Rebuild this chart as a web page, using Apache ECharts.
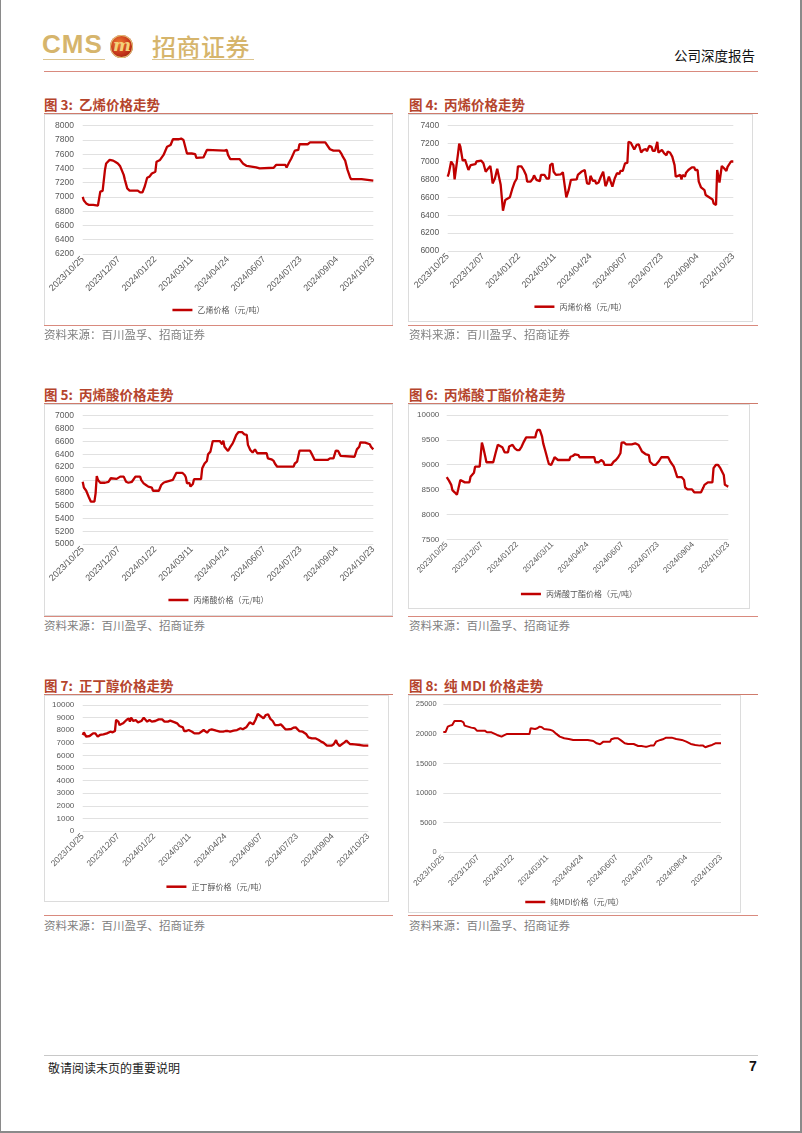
<!DOCTYPE html>
<html><head><meta charset="utf-8">
<script src="https://cdn.jsdelivr.net/npm/echarts/dist/echarts.min.js"></script>
<style>
html,body{margin:0;padding:0;background:#fff;}
#page{position:relative;width:802px;height:1133px;overflow:hidden;font-family:"Noto Sans CJK SC","Liberation Sans",sans-serif;}
.abs{position:absolute;}
.hl{position:absolute;height:0;}
.title{position:absolute;font-size:13.5px;font-weight:bold;color:#B5442C;line-height:16px;white-space:nowrap;}
.src{position:absolute;font-size:11.5px;color:#808080;line-height:14px;white-space:nowrap;}
.box{position:absolute;border:1px solid #DCDCDC;box-sizing:border-box;}
.chart{position:absolute;}
</style></head>
<body><div id="page">
<!-- page frame -->
<div class="abs" style="left:0;top:0;width:1px;height:1133px;background:#8a8a8a"></div>
<div class="abs" style="left:800px;top:0;width:1.5px;height:1133px;background:#8a8a8a"></div>
<div class="abs" style="left:0;top:1131px;width:802px;height:1.5px;background:#8a8a8a"></div>

<!-- header -->
<div class="abs" style="left:42px;top:29px;font-family:'Liberation Sans',Arial,sans-serif;font-weight:bold;font-size:26px;letter-spacing:1px;color:#D6B56C;line-height:30px">CMS</div>
<div class="abs" style="left:110px;top:35px;width:23px;height:23px;border-radius:50%;background:radial-gradient(circle at 40% 35%,#F07A32 0%,#C4341A 55%,#7E1508 100%);box-shadow:0 0 0 1px #E2C27A inset;"></div>
<div class="abs" style="left:112px;top:33px;width:20px;text-align:center;font-family:'DejaVu Serif',serif;font-style:italic;font-weight:bold;font-size:17px;color:#F3D27A;line-height:24px">m</div>
<div class="abs" style="left:152px;top:31px;font-size:24px;font-weight:500;color:#D6B56C;line-height:30px;letter-spacing:0.5px">招商证券</div>
<div class="hl" style="left:43px;top:59px;width:62px;border-top:1.5px solid #DCC48E"></div>
<div class="hl" style="left:152px;top:59px;width:102px;border-top:1.5px solid #DCC48E"></div>
<div class="abs" style="left:674px;top:46px;font-size:13.5px;color:#111;line-height:18px">公司深度报告</div>
<div class="hl" style="left:44px;top:71px;width:714px;border-top:1.2px solid #D98A7E"></div>

<!-- row 1 -->
<div class="title" style="left:44px;top:96px">图 3:&nbsp; 乙烯价格走势</div>
<div class="title" style="left:409px;top:96px">图 4:&nbsp; 丙烯价格走势</div>
<div class="hl" style="left:44px;top:113px;width:349px;border-top:1.5px solid #CF7B6C"></div>
<div class="hl" style="left:408px;top:113px;width:350px;border-top:1.5px solid #CF7B6C"></div>
<div class="box" style="left:44px;top:114px;width:349px;height:212px"></div>
<div class="box" style="left:408px;top:114px;width:345px;height:208px"></div>
<div id="c3" class="chart" style="left:44px;top:114px;width:349px;height:212px"></div>
<div id="c4" class="chart" style="left:408px;top:114px;width:345px;height:208px"></div>
<div class="hl" style="left:44px;top:325px;width:349px;border-top:1.2px solid #D98A7E"></div>
<div class="hl" style="left:408px;top:325px;width:350px;border-top:1.2px solid #D98A7E"></div>
<div class="src" style="left:44px;top:327px">资料来源：百川盈孚、招商证券</div>
<div class="src" style="left:409px;top:327px">资料来源：百川盈孚、招商证券</div>

<!-- row 2 -->
<div class="title" style="left:44px;top:386px">图 5:&nbsp; 丙烯酸价格走势</div>
<div class="title" style="left:409px;top:386px">图 6:&nbsp; 丙烯酸丁酯价格走势</div>
<div class="hl" style="left:44px;top:403px;width:349px;border-top:1.5px solid #CF7B6C"></div>
<div class="hl" style="left:408px;top:403px;width:350px;border-top:1.5px solid #CF7B6C"></div>
<div class="box" style="left:44px;top:404px;width:349px;height:212px"></div>
<div class="box" style="left:408px;top:404px;width:342px;height:205px"></div>
<div id="c5" class="chart" style="left:44px;top:404px;width:349px;height:212px"></div>
<div id="c6" class="chart" style="left:408px;top:404px;width:342px;height:205px"></div>
<div class="hl" style="left:44px;top:616px;width:349px;border-top:1.2px solid #D98A7E"></div>
<div class="hl" style="left:408px;top:616px;width:350px;border-top:1.2px solid #D98A7E"></div>
<div class="src" style="left:44px;top:618px">资料来源：百川盈孚、招商证券</div>
<div class="src" style="left:409px;top:618px">资料来源：百川盈孚、招商证券</div>

<!-- row 3 -->
<div class="title" style="left:44px;top:677px">图 7:&nbsp; 正丁醇价格走势</div>
<div class="title" style="left:409px;top:677px">图 8:&nbsp; 纯 MDI 价格走势</div>
<div class="hl" style="left:44px;top:694px;width:349px;border-top:1.5px solid #CF7B6C"></div>
<div class="hl" style="left:408px;top:694px;width:350px;border-top:1.5px solid #CF7B6C"></div>
<div class="box" style="left:44px;top:695px;width:345px;height:207px"></div>
<div class="box" style="left:408px;top:695px;width:333px;height:218px"></div>
<div id="c7" class="chart" style="left:44px;top:695px;width:345px;height:207px"></div>
<div id="c8" class="chart" style="left:408px;top:695px;width:333px;height:218px"></div>
<div class="hl" style="left:44px;top:915px;width:349px;border-top:1.2px solid #D98A7E"></div>
<div class="hl" style="left:408px;top:915px;width:350px;border-top:1.2px solid #D98A7E"></div>
<div class="src" style="left:44px;top:918px">资料来源：百川盈孚、招商证券</div>
<div class="src" style="left:409px;top:918px">资料来源：百川盈孚、招商证券</div>

<!-- footer -->
<div class="hl" style="left:44px;top:1055px;width:714px;border-top:1px solid #C8C8C8"></div>
<div class="abs" style="left:48px;top:1060px;font-size:12px;color:#222;line-height:15px">敬请阅读末页的重要说明</div>
<div class="abs" style="left:749px;top:1058px;font-family:'Liberation Sans',Arial,sans-serif;font-size:14px;font-weight:bold;color:#111;line-height:17px">7</div>
</div>

<script>
// x-axis tick labels (one every 31 trading days)
var dateLabels = ['2023/10/25','2023/12/07','2024/01/22','2024/03/11','2024/04/24','2024/06/07','2024/07/23','2024/09/04','2024/10/23'];
var labelStep = 31;
var lastIndex = 248;

// [trading-day index, price 元/吨]
var ethylene = [[0,7000],[1,6950],[3,6910],[5,6890],[9,6890],[10,6880],[13,6880],[14,6870],[15,7075],[17,7085],[19,7380],[20,7470],[23,7520],[26,7510],[28,7490],[30,7470],[32,7430],[33,7420],[35,7310],[36,7240],[38,7120],[40,7090],[47,7090],[49,7065],[51,7065],[53,7150],[55,7270],[57,7285],[59,7330],[62,7355],[63,7495],[66,7520],[69,7590],[72,7705],[75,7730],[77,7810],[82,7810],[84,7820],[86,7800],[87,7775],[89,7610],[93,7610],[96,7600],[97,7550],[103,7555],[104,7575],[106,7660],[121,7650],[123,7660],[124,7590],[126,7530],[134,7530],[137,7465],[140,7435],[148,7415],[151,7400],[163,7410],[165,7450],[173,7450],[174,7415],[176,7480],[178,7540],[181,7650],[184,7660],[185,7740],[192,7740],[194,7765],[207,7765],[208,7750],[211,7670],[214,7650],[219,7650],[221,7600],[222,7565],[224,7510],[226,7380],[228,7285],[229,7250],[238,7250],[239,7230],[248,7230]];

var propylene = [[0,6830],[1,6870],[3,7000],[5,6960],[6,6800],[7,6800],[9,7090],[10,7200],[11,7165],[13,7010],[15,7020],[16,7000],[18,6905],[20,6960],[24,6970],[25,7000],[29,7010],[31,6980],[33,6885],[35,6920],[37,6950],[38,6870],[39,6755],[41,6810],[43,6920],[44,6905],[46,6740],[48,6450],[50,6570],[51,6590],[54,6600],[56,6690],[58,6765],[60,6810],[61,6945],[64,6945],[66,6905],[68,6850],[69,6775],[72,6775],[74,6810],[75,6845],[77,6795],[80,6780],[81,6850],[84,6850],[86,6810],[88,6810],[89,6960],[91,6980],[92,6885],[94,6850],[98,6855],[100,6880],[101,6875],[103,6600],[105,6680],[107,6795],[108,6800],[112,6800],[113,6850],[116,6885],[119,6905],[120,6910],[121,6755],[123,6750],[124,6840],[126,6785],[128,6785],[129,6750],[131,6765],[133,6830],[135,6885],[136,6870],[137,6725],[138,6750],[140,6830],[142,6755],[143,6720],[145,6810],[147,6870],[149,6860],[150,6895],[152,6895],[154,6980],[156,6985],[157,7220],[159,7210],[161,7160],[162,7135],[164,7185],[166,7190],[168,7100],[170,7130],[172,7140],[173,7115],[175,7175],[177,7165],[178,7120],[180,7120],[182,7220],[183,7100],[186,7130],[188,7090],[190,7070],[191,7110],[193,7100],[195,7055],[197,6960],[198,6830],[200,6840],[202,6850],[203,6800],[204,6850],[206,6830],[207,6875],[209,6905],[212,6935],[214,6935],[215,6905],[217,6905],[218,6775],[220,6710],[223,6680],[224,6625],[227,6600],[230,6575],[231,6530],[233,6515],[234,6905],[235,6885],[236,6765],[238,6950],[240,6925],[242,6895],[243,6940],[246,7000],[248,7000]];

var acrylicAcid = [[0,5970],[1,5880],[3,5830],[5,5740],[7,5660],[10,5660],[11,5790],[12,6060],[13,6000],[15,5955],[19,5955],[20,5935],[22,5970],[24,6025],[29,6015],[30,5995],[32,6050],[35,6050],[37,5970],[39,5955],[42,5970],[45,6050],[49,6050],[50,5995],[52,5945],[54,5920],[56,5895],[59,5880],[60,5830],[65,5830],[67,5920],[69,5955],[71,5970],[72,6000],[77,6000],[79,6075],[80,6110],[85,6110],[87,6075],[88,6040],[89,5945],[91,5955],[92,5895],[94,5935],[95,6010],[101,6010],[102,6180],[104,6255],[106,6295],[107,6400],[109,6440],[111,6605],[117,6605],[119,6555],[120,6610],[121,6515],[124,6450],[126,6515],[128,6570],[129,6610],[131,6700],[133,6745],[136,6745],[138,6710],[140,6700],[141,6545],[143,6465],[145,6425],[147,6475],[149,6415],[157,6415],[158,6335],[161,6320],[163,6295],[164,6255],[166,6205],[180,6205],[181,6255],[183,6285],[185,6455],[194,6455],[196,6385],[198,6310],[209,6310],[211,6335],[214,6335],[216,6455],[218,6450],[220,6375],[221,6360],[232,6360],[234,6475],[236,6515],[237,6585],[241,6580],[242,6555],[245,6555],[246,6515],[248,6475]];

var butylAcrylate = [[0,8750],[2,8680],[4,8595],[5,8490],[7,8445],[9,8395],[10,8490],[12,8695],[13,8695],[16,8645],[20,8645],[21,8760],[24,8840],[25,8960],[29,8960],[31,9445],[32,9365],[34,9160],[35,9050],[41,9050],[43,9230],[45,9400],[46,9365],[49,9350],[51,9250],[54,9250],[55,9365],[58,9400],[60,9330],[62,9295],[64,9295],[66,9365],[68,9465],[70,9550],[78,9550],[79,9650],[80,9700],[82,9700],[84,9565],[85,9430],[87,9265],[88,9230],[89,9095],[90,9015],[92,8995],[94,9095],[95,9150],[98,9095],[103,9095],[104,9130],[105,9095],[108,9095],[109,9160],[111,9175],[113,9210],[114,9245],[116,9195],[117,9150],[130,9150],[131,9050],[134,9050],[136,9095],[138,9060],[139,8995],[145,8995],[147,9060],[149,9095],[151,9150],[153,9230],[154,9445],[156,9450],[158,9410],[163,9410],[164,9450],[166,9430],[169,9395],[171,9310],[172,9265],[175,9215],[178,9195],[179,9060],[180,9030],[182,8995],[184,8995],[185,8960],[187,9075],[189,9150],[195,9150],[197,9060],[200,8960],[202,8825],[203,8750],[207,8750],[209,8695],[210,8545],[212,8505],[216,8505],[218,8445],[224,8445],[226,8540],[227,8595],[230,8645],[234,8645],[235,8930],[237,8995],[239,8995],[241,8930],[242,8895],[244,8795],[245,8595],[247,8570],[248,8560]];

var nButanol = [[0,7620],[1,7830],[3,7490],[4,7540],[6,7540],[9,7750],[11,7750],[13,7490],[15,7620],[18,7670],[21,7750],[24,7880],[26,7830],[28,7935],[29,8810],[31,8680],[32,8410],[35,8545],[38,8810],[40,8940],[41,8680],[42,8995],[44,8730],[46,8810],[48,8625],[51,8730],[53,8995],[54,8890],[56,8680],[58,8810],[60,8680],[63,8730],[66,8860],[69,8860],[71,8680],[74,8680],[76,8755],[80,8625],[82,8545],[84,8335],[87,8225],[88,7935],[90,7935],[92,8015],[95,7880],[97,7750],[101,7750],[103,7880],[105,8015],[106,7960],[108,7805],[110,8015],[112,8070],[113,7935],[116,7960],[119,7880],[122,7880],[124,7935],[126,7935],[128,7880],[131,7960],[134,8015],[137,8150],[139,8070],[142,8225],[145,8625],[148,8465],[150,8810],[152,9285],[154,9155],[157,8940],[159,9205],[161,9260],[163,8890],[165,8730],[167,8410],[170,8410],[172,8465],[174,8280],[176,8070],[178,8070],[181,8095],[183,8200],[185,8225],[188,7935],[191,7880],[194,7700],[196,7435],[199,7355],[200,7435],[202,7355],[205,7220],[207,7090],[209,7010],[210,6955],[212,6770],[216,6770],[218,6880],[219,6880],[220,7220],[221,6955],[223,6745],[225,6880],[227,7010],[229,7170],[230,7035],[232,6905],[236,6880],[241,6825],[244,6770],[248,6770]];

var pureMDI = [[0,20300],[2,20300],[4,21230],[6,21400],[8,21510],[10,22180],[16,22180],[18,21960],[19,21400],[22,21230],[25,21060],[28,20950],[30,20550],[37,20550],[39,20270],[43,20270],[46,20000],[48,19820],[52,19540],[55,19820],[57,20000],[77,20000],[78,20950],[82,20830],[84,20950],[86,21230],[88,21115],[90,20830],[95,20720],[98,20500],[101,20000],[104,19540],[108,19260],[112,19150],[116,18980],[129,18980],[134,18810],[137,18410],[140,18240],[143,18690],[149,18690],[150,19090],[153,19260],[156,19260],[159,18860],[162,18410],[165,18300],[170,18300],[174,17960],[177,17960],[180,17850],[182,17850],[185,18020],[188,18020],[190,18690],[194,18980],[196,19090],[199,19370],[204,19370],[208,19150],[213,18980],[217,18690],[221,18300],[225,18130],[229,18020],[232,18020],[234,17740],[237,17960],[240,18130],[243,18410],[248,18410]];

var seriesNames = {
  c3:'乙烯价格（元/吨）', c4:'丙烯价格（元/吨）', c5:'丙烯酸价格（元/吨）',
  c6:'丙烯酸丁酯价格（元/吨）', c7:'正丁醇价格（元/吨）', c8:'纯MDI价格（元/吨）'
};

function build(id, data, yMin, yMax, yInt, g) {
  var chart = echarts.init(document.getElementById(id), null, {renderer:'canvas'});
  chart.setOption({
    animation:false,
    backgroundColor:'transparent',
    grid:{left:g.left, top:g.top, width:g.width, height:g.height, containLabel:false},
    legend:{
      data:[seriesNames[id]], left:'center', top:g.legendTop, padding:0,
      icon:'rect', itemWidth:20, itemHeight:2.5, itemGap:6,
      textStyle:{fontSize:8, color:'#595959', fontFamily:'Noto Sans CJK SC'}
    },
    xAxis:{
      type:'value', min:0, max:lastIndex, interval:labelStep,
      axisLine:{show:false}, axisTick:{show:false}, splitLine:{show:false},
      axisLabel:{
        rotate:45, margin:g.xMargin, fontSize:g.xFont, color:'#595959',
        fontFamily:'Liberation Sans', showMinLabel:true, showMaxLabel:true,
        formatter:function(v){ return (v % labelStep === 0) ? dateLabels[v/labelStep] : ''; }
      }
    },
    yAxis:{
      type:'value', min:yMin, max:yMax, interval:yInt,
      axisLine:{show:false}, axisTick:{show:false},
      splitLine:{show:true, lineStyle:{color:'#D9D9D9', width:0.8}},
      axisLabel:{fontSize:g.yFont, color:'#595959', fontFamily:'Liberation Sans', margin:g.yMargin,
        formatter:function(v){ return String(v); }}
    },
    series:[{
      name:seriesNames[id], type:'line', data:data, showSymbol:false, symbol:'none',
      lineStyle:{color:'#C00000', width:g.lw}, itemStyle:{color:'#C00000'}
    }]
  });
}

build('c3', ethylene, 6200, 8000, 200, {left:38.7, top:11.7, width:290.6, height:128.3, legendTop:192, xFont:9, yFont:8.5, xMargin:4, yMargin:8.7, lw:2.3});
build('c4', propylene, 6000, 7400, 200, {left:39.7, top:11.7, width:285.6, height:125.3, legendTop:188.7, xFont:9, yFont:8.5, xMargin:4, yMargin:8.4, lw:2.3});
build('c5', acrylicAcid, 5000, 7000, 200, {left:38.7, top:11.7, width:290.6, height:128.3, legendTop:192, xFont:9, yFont:8.5, xMargin:4, yMargin:8.7, lw:2.3});
build('c6', butylAcrylate, 7500, 10000, 500, {left:38.7, top:11, width:281.6, height:124.3, legendTop:186, xFont:8, yFont:8, xMargin:4, yMargin:7.4, lw:2.3});
build('c7', nButanol, 0, 10000, 1000, {left:38.7, top:10, width:285.6, height:126, legendTop:187.7, xFont:8.5, yFont:8, xMargin:4, yMargin:8.4, lw:2.3});
build('c8', pureMDI, 0, 25000, 5000, {left:35.3, top:9.3, width:277.7, height:148, legendTop:203, xFont:8, yFont:7.5, xMargin:4, yMargin:6.6, lw:2});
</script>
</body></html>
